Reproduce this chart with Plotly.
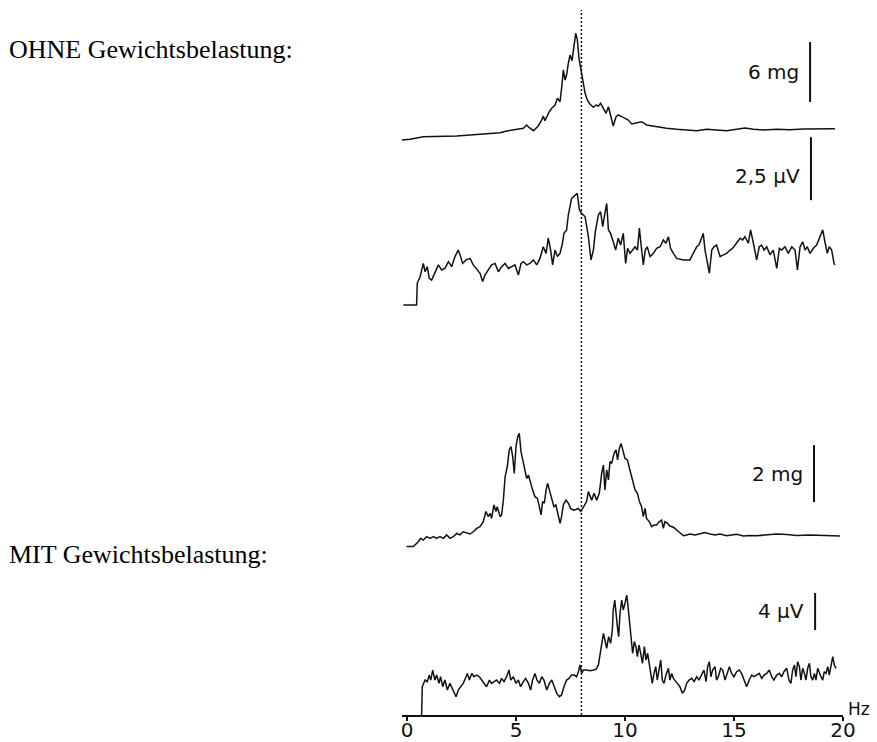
import plotly.graph_objects as go

# ---------------------------------------------------------------------------
# Spectra (frequency in Hz, amplitude in the unit of each channel)
# ---------------------------------------------------------------------------

# OHNE Gewichtsbelastung – acceleration spectrum (mg)
f_acc_ohne = [-0.24, 0.14, 0.75, 1.51, 2.28, 3.04, 3.81, 4.27, 4.57, 5.03, 5.34, 5.49,
              5.61, 5.80, 6.02, 6.18, 6.25, 6.33, 6.41, 6.53, 6.64, 6.79, 6.90, 7.02,
              7.10, 7.17, 7.25, 7.32, 7.40, 7.48, 7.57, 7.66, 7.74, 7.81, 7.89, 7.97,
              8.06, 8.17, 8.27, 8.39, 8.55, 8.67, 8.78, 8.88, 9.01, 9.13, 9.24, 9.34,
              9.46, 9.59, 9.69, 9.85, 10.00, 10.15, 10.31, 10.54, 10.76, 10.99, 11.22,
              11.45, 11.91, 12.37, 12.83, 13.29, 13.75, 14.20, 14.66, 15.12, 15.50,
              15.89, 16.35, 16.96, 17.57, 18.18, 18.79, 19.25, 19.63]
a_acc_ohne = [0.30, 0.37, 0.63, 0.63, 0.70, 0.83, 0.97, 1.03, 1.20, 1.40, 1.47, 1.80,
              1.53, 1.23, 1.70, 2.30, 2.70, 2.23, 2.63, 3.13, 3.47, 3.80, 4.47, 4.13,
              5.63, 7.30, 6.30, 6.80, 7.97, 8.80, 8.23, 9.97, 10.97, 10.37, 8.47, 7.47,
              6.13, 4.97, 4.30, 3.90, 3.57, 3.80, 3.70, 3.97, 3.47, 2.97, 3.63, 2.63,
              1.70, 2.63, 2.80, 2.63, 2.47, 2.30, 1.90, 2.03, 2.13, 1.80, 1.70,
              1.63, 1.47, 1.37, 1.30, 1.23, 1.37, 1.30, 1.23, 1.37, 1.50,
              1.37, 1.30, 1.37, 1.33, 1.40, 1.40, 1.43, 1.43]

# OHNE Gewichtsbelastung – EMG spectrum (µV)
f_emg_ohne = [-0.17, 0.44, 0.47, 0.60, 0.75, 0.83, 0.93, 1.02, 1.13, 1.28, 1.44, 1.59,
              1.74, 1.90, 2.05, 2.20, 2.35, 2.46, 2.55, 2.71, 2.89, 3.04, 3.23, 3.35,
              3.47, 3.58, 3.73, 3.88, 4.04, 4.19, 4.34, 4.50, 4.65, 4.80, 4.95, 5.11,
              5.23, 5.34, 5.49, 5.64, 5.80, 5.95, 6.10, 6.25, 6.38, 6.48, 6.59, 6.68,
              6.79, 6.90, 7.02, 7.13, 7.20, 7.32, 7.40, 7.55, 7.71, 7.81, 7.91, 8.01,
              8.17, 8.32, 8.44, 8.55, 8.65, 8.78, 8.88, 8.98, 9.05, 9.16, 9.24, 9.34,
              9.46, 9.57, 9.69, 9.80, 9.92, 10.03, 10.12, 10.23, 10.35, 10.46, 10.57,
              10.66, 10.73, 10.84, 10.93, 11.02, 11.15, 11.30, 11.45, 11.61, 11.76,
              11.88, 11.99, 12.09, 12.22, 12.37, 12.68, 12.98, 13.13, 13.29, 13.39,
              13.52, 13.59, 13.67, 13.78, 13.87, 13.98, 14.08, 14.20, 14.36, 14.51,
              14.66, 14.82, 14.94, 15.05, 15.15, 15.28, 15.40, 15.50, 15.66, 15.76,
              15.89, 16.04, 16.16, 16.27, 16.38, 16.50, 16.65, 16.80, 16.96, 17.08,
              17.19, 17.34, 17.49, 17.65, 17.80, 17.91, 18.03, 18.15, 18.26, 18.36,
              18.49, 18.64, 18.79, 18.94, 19.07, 19.17, 19.28, 19.37, 19.48, 19.59,
              19.63]
a_emg_ohne = [0.04, 0.04, 0.90, 1.16, 1.69, 1.36, 1.56, 1.10, 1.03, 1.30, 1.63, 1.43,
              1.49, 1.76, 1.56, 1.96, 2.22, 1.96, 1.69, 1.83, 1.89, 1.63, 1.43, 1.30,
              0.97, 1.23, 1.43, 1.63, 1.69, 1.36, 1.56, 1.69, 1.49, 1.56, 1.63, 1.23,
              1.69, 1.76, 1.63, 1.69, 1.83, 1.63, 1.89, 2.35, 2.09, 2.69, 2.22, 1.63,
              2.22, 1.96, 2.09, 2.49, 2.88, 3.02, 3.61, 4.27, 4.40, 4.47, 3.81, 3.68,
              3.54, 2.75, 1.83, 2.22, 3.02, 3.61, 3.74, 3.15, 3.54, 4.07, 3.02, 2.88,
              2.55, 2.22, 2.69, 2.42, 2.88, 1.69, 2.29, 2.09, 2.22, 2.35, 2.22, 3.09,
              2.49, 1.63, 2.22, 2.35, 1.96, 2.09, 2.29, 2.35, 2.62, 2.49, 2.75, 2.29,
              2.09, 1.89, 1.83, 1.83, 2.09, 2.35, 2.42, 2.75, 2.88, 2.22, 1.69, 1.30,
              2.22, 2.35, 2.42, 1.96, 2.03, 2.09, 2.22, 2.29, 2.42, 2.55, 2.69, 2.62,
              2.75, 2.49, 3.02, 2.49, 1.83, 2.35, 2.42, 2.22, 2.35, 2.03, 2.22, 1.49,
              2.29, 2.22, 2.35, 2.09, 2.35, 2.22, 1.43, 2.35, 2.55, 2.22, 2.35, 2.09,
              2.29, 2.42, 2.75, 3.02, 2.55, 2.09, 2.35, 2.22, 1.69, 1.63]

# MIT Gewichtsbelastung – acceleration spectrum (mg)
f_acc_mit = [-0.02, 0.29, 0.52, 0.63, 0.75, 0.90, 1.06, 1.21, 1.36, 1.51, 1.67, 1.82,
             1.97, 2.13, 2.28, 2.43, 2.58, 2.74, 2.89, 3.04, 3.20, 3.35, 3.50, 3.62,
             3.73, 3.81, 3.88, 3.99, 4.08, 4.14, 4.27, 4.34, 4.42, 4.50, 4.60, 4.69,
             4.77, 4.85, 4.92, 5.00, 5.08, 5.15, 5.23, 5.31, 5.41, 5.49, 5.57, 5.64,
             5.76, 5.87, 5.98, 6.07, 6.15, 6.22, 6.30, 6.38, 6.45, 6.53, 6.64, 6.74,
             6.83, 6.94, 7.02, 7.09, 7.17, 7.29, 7.40, 7.51, 7.63, 7.75, 7.86, 7.97,
             8.06, 8.17, 8.24, 8.32, 8.39, 8.47, 8.58, 8.70, 8.82, 8.93, 9.01, 9.08,
             9.16, 9.24, 9.31, 9.39, 9.50, 9.59, 9.66, 9.74, 9.82, 9.89, 10.00, 10.11,
             10.23, 10.35, 10.46, 10.57, 10.66, 10.76, 10.84, 10.92, 10.99, 11.12,
             11.22, 11.33, 11.45, 11.57, 11.68, 11.76, 11.83, 11.94, 12.06, 12.22,
             12.37, 12.52, 12.68, 12.83, 12.98, 13.21, 13.44, 13.67, 13.90, 14.13,
             14.36, 14.66, 14.89, 15.12, 15.43, 15.73, 16.04, 16.50, 16.96, 17.42,
             17.87, 18.49, 19.10, 19.71, 19.86]
a_acc_mit = [0.12, 0.12, 0.29, 0.41, 0.35, 0.47, 0.41, 0.47, 0.41, 0.47, 0.41, 0.53,
             0.41, 0.47, 0.58, 0.53, 0.64, 0.61, 0.56, 0.64, 0.76, 0.82, 0.99, 1.35,
             1.17, 1.29, 1.11, 1.58, 1.35, 1.52, 1.17, 1.23, 1.75, 2.57, 2.92, 3.51,
             3.63, 3.27, 2.69, 3.63, 3.98, 4.09, 3.45, 3.16, 2.75, 2.51, 2.63, 2.40,
             2.11, 1.87, 1.81, 1.52, 1.23, 1.70, 1.64, 2.11, 2.34, 2.11, 1.75, 1.52,
             1.58, 1.23, 0.94, 1.17, 1.58, 1.75, 1.64, 1.46, 1.40, 1.42, 1.46, 1.35,
             1.46, 1.58, 1.70, 2.05, 1.93, 1.75, 1.99, 1.75, 1.99, 2.69, 2.98, 2.11,
             2.81, 2.46, 3.10, 3.04, 3.39, 3.51, 3.16, 3.57, 3.74, 3.51, 3.21, 3.16,
             2.81, 2.51, 2.11, 1.99, 1.70, 1.52, 1.17, 1.46, 1.11, 0.99, 0.82, 0.88,
             0.88, 0.99, 1.05, 0.76, 0.99, 0.94, 0.84, 0.80, 0.70, 0.58, 0.50, 0.53,
             0.56, 0.53, 0.58, 0.61, 0.56, 0.53, 0.56, 0.50, 0.53, 0.55, 0.49, 0.51,
             0.50, 0.53, 0.56, 0.54, 0.51, 0.53, 0.51, 0.49, 0.49]

# MIT Gewichtsbelastung – EMG spectrum (µV)
f_emg_mit = [0.67, 0.70, 0.83, 0.93, 1.02, 1.09, 1.18, 1.28, 1.36, 1.47, 1.54, 1.64,
             1.74, 1.85, 1.97, 2.13, 2.25, 2.35, 2.46, 2.58, 2.71, 2.77, 2.86, 2.97,
             3.07, 3.20, 3.32, 3.43, 3.55, 3.65, 3.78, 3.88, 3.99, 4.11, 4.24, 4.34,
             4.45, 4.57, 4.68, 4.76, 4.88, 5.00, 5.11, 5.21, 5.34, 5.44, 5.57, 5.67,
             5.76, 5.87, 5.96, 6.07, 6.18, 6.28, 6.41, 6.53, 6.64, 6.76, 6.87, 6.99,
             7.09, 7.20, 7.32, 7.43, 7.55, 7.68, 7.78, 7.86, 7.94, 8.01, 8.09, 8.24,
             8.39, 8.55, 8.67, 8.78, 8.85, 8.93, 9.01, 9.08, 9.16, 9.25, 9.34, 9.42,
             9.46, 9.53, 9.59, 9.65, 9.71, 9.77, 9.85, 9.92, 10.00, 10.08, 10.14,
             10.20, 10.28, 10.35, 10.43, 10.50, 10.57, 10.64, 10.72, 10.80, 10.89,
             10.96, 11.04, 11.12, 11.19, 11.25, 11.33, 11.41, 11.48, 11.56, 11.64,
             11.71, 11.79, 11.88, 11.99, 12.06, 12.14, 12.22, 12.29, 12.40, 12.52,
             12.63, 12.74, 12.83, 12.94, 13.06, 13.17, 13.29, 13.39, 13.52, 13.62,
             13.72, 13.79, 13.87, 13.94, 14.02, 14.13, 14.20, 14.28, 14.39, 14.48,
             14.59, 14.69, 14.79, 14.89, 15.00, 15.12, 15.24, 15.35, 15.46, 15.58,
             15.70, 15.81, 15.92, 16.04, 16.16, 16.27, 16.38, 16.50, 16.62, 16.73,
             16.83, 16.96, 17.08, 17.19, 17.29, 17.42, 17.52, 17.61, 17.69, 17.77,
             17.84, 17.92, 18.00, 18.07, 18.15, 18.23, 18.30, 18.38, 18.46, 18.53,
             18.61, 18.69, 18.76, 18.84, 18.91, 18.99, 19.07, 19.14, 19.22, 19.30,
             19.37, 19.45, 19.53, 19.60, 19.68, 19.76]
a_emg_mit = [0.00, 3.06, 3.78, 3.60, 4.32, 3.78, 4.86, 3.78, 4.32, 3.42, 4.14, 3.06,
             3.78, 2.70, 3.42, 2.52, 1.98, 2.70, 3.06, 3.42, 4.14, 4.50, 3.78, 4.50,
             4.14, 4.32, 4.14, 3.78, 3.42, 3.06, 3.78, 3.42, 3.60, 3.78, 3.42, 3.96,
             3.60, 4.14, 4.86, 3.78, 4.14, 3.42, 3.78, 3.06, 3.60, 3.96, 3.42, 2.70,
             3.78, 4.50, 3.78, 3.42, 4.14, 3.78, 2.70, 3.42, 3.78, 3.06, 2.34, 1.98,
             2.16, 3.06, 3.78, 3.96, 4.32, 4.32, 4.14, 4.68, 5.41, 4.50, 4.86, 4.86,
             4.79, 4.86, 4.94, 5.41, 6.49, 7.75, 8.83, 8.11, 7.21, 8.47, 7.75, 9.19,
             11.35, 12.43, 10.63, 9.55, 8.47, 10.99, 12.43, 11.35, 12.07, 12.97, 11.71,
             10.27, 8.11, 6.67, 7.93, 7.39, 6.31, 7.57, 6.67, 5.59, 7.39, 5.95, 6.67,
             5.23, 4.50, 3.42, 4.50, 5.23, 3.78, 4.86, 5.95, 3.78, 3.42, 4.32, 5.05,
             3.78, 4.50, 3.96, 3.78, 3.42, 3.06, 2.34, 2.70, 3.42, 3.78, 3.96, 3.60,
             4.14, 3.78, 4.32, 4.86, 3.60, 5.23, 5.77, 4.14, 4.86, 5.23, 3.78, 4.14,
             5.05, 4.86, 3.78, 4.50, 5.23, 4.50, 4.14, 4.68, 4.86, 4.50, 3.78, 3.06,
             3.78, 4.32, 4.14, 4.32, 4.50, 3.96, 4.32, 4.50, 4.86, 4.14, 3.78, 4.32,
             4.50, 4.14, 4.68, 5.05, 3.78, 3.42, 4.86, 5.41, 4.14, 5.77, 5.23, 3.78,
             5.05, 4.50, 3.78, 5.05, 5.59, 4.14, 3.78, 4.50, 3.78, 5.05, 4.50, 4.14,
             3.78, 4.68, 4.50, 5.23, 4.32, 5.59, 6.31, 5.41, 5.05]

# Calibration bars: length in channel units and their labels
scale_lengths = [6.0, 2.5, 2.0, 4.0]
scale_labels = ["6 mg", "2,5 µV", "2 mg", "4 µV"]

# Frequency axis
tick_vals = [0, 5, 10, 15, 20]
tick_text = ["0", "5", "10", "15", "20"]
marker_freq = 8.0  # dotted reference line (Hz)

group_labels = ["OHNE Gewichtsbelastung:", "MIT Gewichtsbelastung:"]

# ---------------------------------------------------------------------------
# Layout geometry
# ---------------------------------------------------------------------------
W, H = 877, 742
PLOT_H = 715              # height of the plotting area (x axis sits at its bottom)
X_LEFT_PX, X0_PX, X20_PX = 401.5, 407.0, 843.0
px_per_hz = (X20_PX - X0_PX) / 20.0
x_range = [(X_LEFT_PX - X0_PX) / px_per_hz, 20.0]

# each channel: (pixel row of zero amplitude, pixels per unit)
rows = [(143.0, 10.0), (306.0, 25.2), (550.0, 28.5), (715.0, 9.25)]
# calibration bar bottoms (channel units), bar x position (Hz), label offset
bar_base = [4.1, 4.2, 1.68, 9.19]
bar_x = [18.49, 18.53, 18.67, 18.72]
label_dy = [0.0, -0.11, 0.0, 0.0]

series = [(f_acc_ohne, a_acc_ohne), (f_emg_ohne, a_emg_ohne),
          (f_acc_mit, a_acc_mit), (f_emg_mit, a_emg_mit)]

fig = go.Figure()
line_color = "#121212"
axis_names = ["y", "y2", "y3", "y4"]

for i, (f, a) in enumerate(series):
    fig.add_trace(go.Scatter(
        x=f, y=a, mode="lines", yaxis=axis_names[i],
        line=dict(color=line_color, width=1.5),
        hoverinfo="skip", showlegend=False,
    ))

layout_axes = {}
for i, (p0, s) in enumerate(rows):
    key = "yaxis" if i == 0 else f"yaxis{i + 1}"
    ax = dict(range=[-(PLOT_H - p0) / s, p0 / s], domain=[0, 1],
              visible=False, fixedrange=True, automargin=False)
    if i > 0:
        ax["overlaying"] = "y"
    layout_axes[key] = ax

shapes = []
annotations = []
for i in range(4):
    yref = axis_names[i]
    shapes.append(dict(type="line", xref="x", yref=yref,
                       x0=bar_x[i], x1=bar_x[i],
                       y0=bar_base[i], y1=bar_base[i] + scale_lengths[i],
                       line=dict(color="#111111", width=2)))
    annotations.append(dict(
        xref="x", yref=yref, x=bar_x[i] - 0.42,
        y=bar_base[i] + scale_lengths[i] / 2 + label_dy[i] * scale_lengths[i],
        text=scale_labels[i], showarrow=False, xanchor="right", yanchor="middle",
        font=dict(family="DejaVu Sans", size=20, color="#111111")))

# dotted reference line at the tremor frequency
shapes.append(dict(type="line", xref="x", yref="paper",
                   x0=marker_freq, x1=marker_freq, y0=0, y1=(PLOT_H - 10) / PLOT_H,
                   line=dict(color="#111111", width=1.5, dash="2px,2px")))

# unit label of the frequency axis
annotations.append(dict(xref="paper", yref="paper", x=846 / W, y=-0.008,
                        text="Hz", showarrow=False, xanchor="left", yanchor="bottom",
                        font=dict(family="DejaVu Sans", size=17, color="#111111")))

# group captions on the left
for txt, ypx in zip(group_labels, [50.0, 554.0]):
    annotations.append(dict(xref="paper", yref="paper", x=7 / W,
                            y=(PLOT_H - ypx) / PLOT_H,
                            text=txt, showarrow=False, xanchor="left", yanchor="middle",
                            font=dict(family="Liberation Serif", size=26, color="#000000")))

fig.update_layout(
    width=W, height=H, autosize=False,
    margin=dict(l=0, r=0, t=0, b=H - PLOT_H, pad=0),
    paper_bgcolor="white", plot_bgcolor="white",
    xaxis=dict(range=x_range, domain=[X_LEFT_PX / W, X20_PX / W],
               automargin=False,
               showgrid=False, zeroline=False, showline=True,
               linecolor="#111111", linewidth=1.6,
               ticks="outside", ticklen=4, tickwidth=1.5, tickcolor="#111111",
               ticklabelstandoff=-8,
               tickvals=tick_vals, ticktext=tick_text,
               tickfont=dict(family="DejaVu Sans", size=20, color="#111111"),
               fixedrange=True),
    shapes=shapes, annotations=annotations,
    **layout_axes,
)

fig.write_html("out.html", config={"responsive": False})
